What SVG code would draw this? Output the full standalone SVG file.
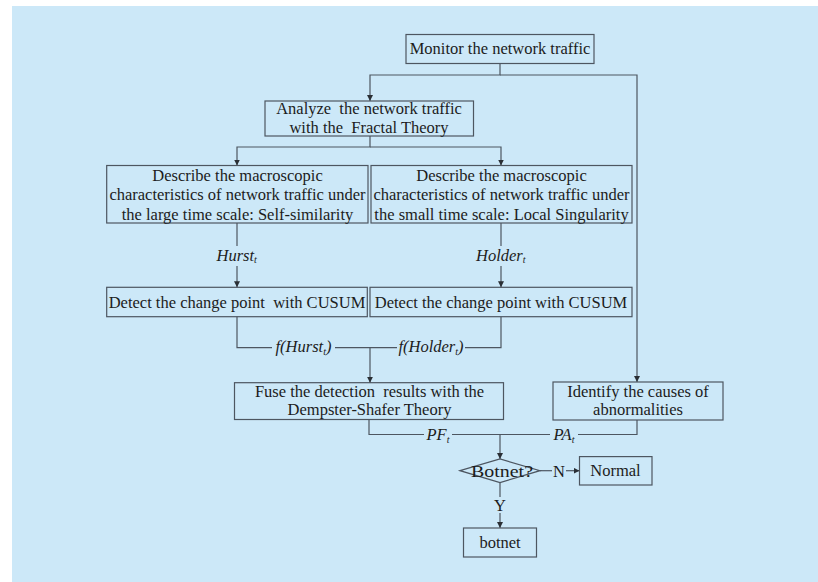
<svg xmlns="http://www.w3.org/2000/svg" width="818" height="582" viewBox="0 0 818 582">
<defs>
<style>
.box{fill:none;stroke:#4d5661;stroke-width:1.2}
.ln{fill:none;stroke:#4d5661;stroke-width:1.2}
.arr{marker-end:url(#ah)}
text{font-family:"Liberation Serif","Times New Roman",serif;font-size:16.5px;fill:#1c1c1c;text-anchor:middle}
.i{font-style:italic}
.sub{font-size:10px}
</style>
<marker id="ah" markerUnits="userSpaceOnUse" markerWidth="7" markerHeight="7" refX="6" refY="3" orient="auto">
<path d="M0,0 L6,3 L0,6 z" fill="#2a2f35"/>
</marker>
</defs>
<rect x="12" y="6" width="806" height="576" fill="#cce8f8"/>

<g id="connectors">
<path class="ln arr" d="M500,63.5 V75 H370 V101"/>
<path class="ln arr" d="M500,75 H637 V382"/>
<path class="ln arr" d="M370,136 V147 H237 V165.5"/>
<path class="ln arr" d="M370,147 H501 V165.5"/>
<path class="ln" d="M237,223 V246"/>
<path class="ln arr" d="M237,266 V287.3"/>
<path class="ln" d="M501,223 V246"/>
<path class="ln arr" d="M501,266 V287.3"/>
<path class="ln" d="M237,316.7 V347.7 H272"/>
<path class="ln" d="M335,347.7 H397"/>
<path class="ln" d="M465,347.7 H501 V316.7"/>
<path class="ln arr" d="M370,347.7 V382.7"/>
<path class="ln" d="M369,419.5 V434.5 H424"/>
<path class="ln" d="M452,434.5 H550"/>
<path class="ln" d="M578,434.5 H637 V420"/>
<path class="ln arr" d="M500,434.5 V459"/>
<path class="ln" d="M540,470.7 H552"/>
<path class="ln arr" d="M566,470.7 H579.5"/>
<path class="ln" d="M500,482.5 V497"/>
<path class="ln arr" d="M500,513 V528"/>
<text class="i" x="236.7" y="260.5">Hurst<tspan class="sub" dy="2.5">t</tspan></text>
<text class="i" x="500.8" y="260.5">Holder<tspan class="sub" dy="2.5">t</tspan></text>
<text class="i" x="303.5" y="352">f(Hurst<tspan class="sub" dy="2.5">t</tspan><tspan dy="-2.5">)</tspan></text>
<text class="i" x="431" y="352">f(Holder<tspan class="sub" dy="2.5">t</tspan><tspan dy="-2.5">)</tspan></text>
<text class="i" x="438" y="440">PF<tspan class="sub" dy="2.5">t</tspan></text>
<text class="i" x="564" y="440">PA<tspan class="sub" dy="2.5">t</tspan></text>
<text x="559" y="476.5">N</text>
<text x="500" y="511">Y</text>
</g>

<g id="monitor">
<rect class="box" x="406" y="34.5" width="188" height="29"/>
<text x="500" y="53.5">Monitor the network traffic</text>
</g>

<g id="analyze">
<rect class="box" x="265" y="101" width="208.5" height="35"/>
<text x="369" y="114" xml:space="preserve">Analyze  the network traffic</text>
<text x="369" y="133" xml:space="preserve">with the  Fractal Theory</text>
</g>

<g id="describe-large">
<rect class="box" x="106.7" y="165.5" width="261.3" height="57.5"/>
<text x="237.5" y="180.5">Describe the macroscopic</text>
<text x="237.5" y="200">characteristics of network traffic under</text>
<text x="237.5" y="219.5">the large time scale: Self-similarity</text>
</g>

<g id="describe-small">
<rect class="box" x="371" y="165.5" width="261" height="57.5"/>
<text x="501.5" y="180.5">Describe the macroscopic</text>
<text x="501.5" y="200">characteristics of network traffic under</text>
<text x="501.5" y="219.5">the small time scale: Local Singularity</text>
</g>

<g id="detect-hurst">
<rect class="box" x="106.7" y="287.3" width="260.6" height="29.4"/>
<text x="237" y="307.5" xml:space="preserve">Detect the change point  with CUSUM</text>
</g>

<g id="detect-holder">
<rect class="box" x="370" y="287.3" width="262" height="29.4"/>
<text x="501" y="307.5">Detect the change point with CUSUM</text>
</g>

<g id="fuse">
<rect class="box" x="234.5" y="382.7" width="269" height="36.8"/>
<text x="369.5" y="396.5" xml:space="preserve">Fuse the detection  results with the</text>
<text x="369.5" y="415">Dempster-Shafer Theory</text>
</g>

<g id="identify">
<rect class="box" x="553" y="382" width="170" height="38"/>
<text x="638" y="396.5">Identify the causes of</text>
<text x="638" y="415">abnormalities</text>
</g>

<g id="decision">
<polygon class="box" points="460,470.7 500,459 540,470.7 500,482.5"/>
<text x="502" y="476.5" textLength="62" lengthAdjust="spacingAndGlyphs">Botnet?</text>
</g>

<g id="normal">
<rect class="box" x="579.5" y="456.6" width="72.5" height="28.4"/>
<text x="615.5" y="476">Normal</text>
</g>

<g id="botnet">
<rect class="box" x="463.5" y="528" width="73" height="29"/>
<text x="500" y="547.5">botnet</text>
</g>
</svg>
